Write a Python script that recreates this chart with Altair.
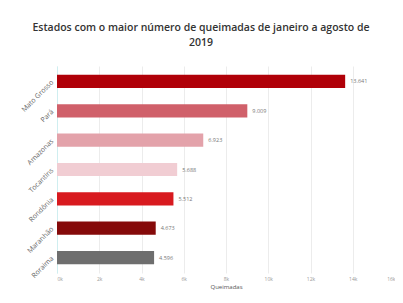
import altair as alt
import pandas as pd

states = ["Mato Grosso", "Pará", "Amazonas", "Tocantins", "Rondônia", "Maranhão", "Roraima"]
values = [13641, 9009, 6923, 5688, 5512, 4673, 4596]
labels = ["13.641", "9.009", "6.923", "5.688", "5.512", "4.673", "4.596"]
colors = ["#b00008", "#d0606a", "#e3a2aa", "#f1cdd3", "#d81a1f", "#850a0a", "#6e6e6e"]

df = pd.DataFrame({"estado": states, "valor": values, "rotulo": labels})

y = alt.Y("estado:N", sort=states, title=None,
          scale=alt.Scale(paddingInner=0.55, paddingOuter=0.3),
          axis=alt.Axis(labelAngle=-45, labelFontSize=7, labelColor="#666",
                        ticks=False, domainColor="#cfeef0", labelPadding=5,
                        labelFont="Open Sans"))

bars = alt.Chart(df).mark_bar().encode(
    x=alt.X("valor:Q", title="Queimadas",
            scale=alt.Scale(domain=[0, 16000], nice=False),
            axis=alt.Axis(values=list(range(0, 16001, 2000)), format="~s",
                          labelFontSize=5, labelColor="#999", gridColor="#ececec",
                          domain=False, ticks=False, titleFontSize=6,
                          titleColor="#555", titleFontWeight="normal",
                          titleFont="Open Sans", labelFont="Open Sans",
                          labelPadding=3, titlePadding=2)),
    y=y,
    color=alt.Color("estado:N", scale=alt.Scale(domain=states, range=colors), legend=None),
)

text = alt.Chart(df).mark_text(align="left", dx=5, fontSize=5.5, color="#777",
                               font="Open Sans").encode(
    x="valor:Q", y=alt.Y("estado:N", sort=states), text="rotulo:N")

chart = (bars + text).properties(
    width=338, height=207,
    autosize=alt.AutoSizeParams(type="none"),
    padding={"left": 49, "top": 58, "right": 0, "bottom": 22},
    title=alt.TitleParams(
        text=["Estados com o maior número de queimadas de janeiro a agosto de", "2019"],
        fontSize=10.5, font="Open Sans", fontWeight=600, color="#333",
        anchor="middle", dx=-25, offset=18, lineHeight=15),
).configure_view(stroke=None)

chart.save("out.html", embed_options={"renderer": "svg", "actions": False})
